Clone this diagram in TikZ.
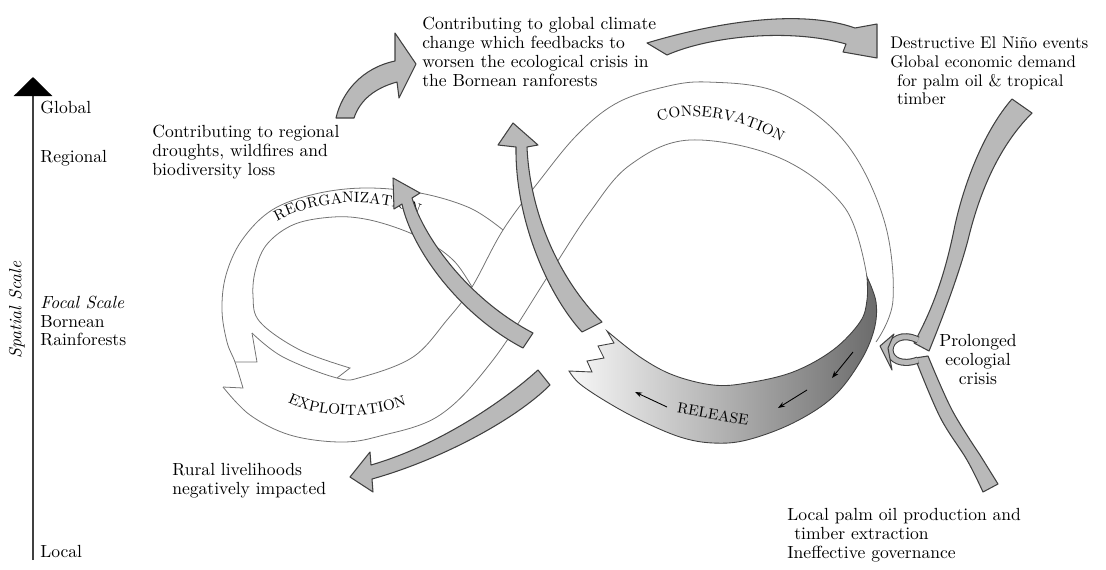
\documentclass[tikz,border=0pt]{standalone}
\usepackage{tikz}
\usetikzlibrary{arrows.meta,decorations.text}

\newcommand{\lblfont}{\fontsize{8.5}{9}\selectfont}
\tikzset{
	txt/.style={font=\fontsize{10}{10.8}\selectfont, align=left, inner sep=0pt},
	scl/.style={font=\fontsize{10}{10.4}\selectfont, align=left, inner sep=0pt},
	band/.style={draw=black!55, line width=0.45pt},
	blockarr/.style={fill=gray!55, draw=black!75, line width=0.6pt, line join=round},
}

\begin{document}
\begin{tikzpicture}[x=0.02cm, y=-0.02cm]
	\useasboundingbox (0,0) rectangle (1106,569);

	% spatial scale
	\coordinate (axbot) at (33,560);
	\coordinate (axtop) at (33,77);
	\draw[line width=1.6pt, black!75, -{Triangle[width=0.76cm, length=0.38cm, color=black]}] (axbot) -- (axtop);
	\node[scl, anchor=west] (global) at (40,107) {Global};
	\node[scl, anchor=west] (regional) at (40,158) {Regional};
	\node[scl, anchor=north west] (focal) at (40,296) {\textit{Focal Scale}\\Bornean\\Rainforests};
	\node[scl, anchor=west] (localsc) at (40,551) {Local};
	\node[scl, rotate=90] (spatial) at (17,310) {\textit{Spatial Scale}};

	% figure eight band
	\draw[band] plot[smooth, tension=0.6] coordinates {(503,230) (470,208) (420,193) (365,188) (315,194) (272,210) (242,240) (226,275) (222,310) (227,342) (235,362) (243,388)} -- (223,387);
	\draw[band] plot[smooth, tension=0.6] coordinates {(223,387) (250,415) (290,435) (340,442) (380,436) (440,415) (493,360) (550,273) (590,212) (630,165) (690,140) (780,158) (845,208) (867,277)};
	\draw[band] plot[smooth, tension=0.6] coordinates {(472,287) (455,262) (430,243) (400,229) (365,219) (333,217) (295,224) (268,243) (256,268) (253,296) (260,322) (300,350) (350,368)} -- (337,378);
	\draw[band] plot[smooth, tension=0.6] coordinates {(252,333) (283,357) (337,378) (362,377) (413,357) (447,320) (472,287) (503,230) (540,180) (577,135) (615,104) (660,88) (707,82) (780,93) (845,142) (884,220) (893,300) (876,342)};
	\draw[band] (252,333) -- (257,362) -- (235,362);

	% release
	\draw[draw=black!75, line width=0.5pt, left color=black!3, right color=black!58]
		plot[smooth, tension=0.6] coordinates {(867,277) (867,300) (860,322) (833,350) (793,372) (747,383) (713,385) (673,375) (640,357) (607,331)}
		-- (614,343) -- (598,346) -- (604,358) -- (587,361) -- (592,372) -- (569,371)
		-- plot[smooth, tension=0.6] coordinates {(569,371) (580,384) (607,402) (640,420) (680,437) (713,443) (747,440) (793,423) (833,397) (860,362) (874,330) (876,302) (867,277)} -- cycle;
	\draw[-{Stealth[length=0.14cm, width=0.1cm]}, line width=0.5pt] (667,407) -- (635,392);
	\draw[-{Stealth[length=0.14cm, width=0.1cm]}, line width=0.5pt] (807,390) -- (778,408);
	\draw[-{Stealth[length=0.14cm, width=0.1cm]}, line width=0.5pt] (853,352) -- (832,378);

	% phase names
	\path[decorate, decoration={text along path, text align=center, text={|\lblfont|CONSERVATION}}] (645,130) .. controls (670,110) and (730,108) .. (795,150);
	\path[decorate, decoration={text along path, text align=center, text={|\lblfont|REORGANIZATION}}] (262,232) .. controls (300,197) and (390,192) .. (435,224);
	\path[decorate, decoration={text along path, text align=center, text={|\lblfont|EXPLOITATION}}] (280,398) .. controls (310,418) and (370,422) .. (415,402);
	\node[font=\lblfont, rotate=-10, inner sep=0pt] (release) at (713,414) {RELEASE};

	% texts
	\node[txt, anchor=north west] (climate) at (422,17) {Contributing to global climate\\change which feedbacks to\\worsen the ecological crisis in\\the Bornean ranforests};
	\node[txt, anchor=north west] (regdrought) at (152,125) {Contributing to regional\\droughts, wildfires and\\biodiversity loss};
	\node[txt, font=\fontsize{9.6}{10.8}\selectfont, anchor=north west] (elnino) at (890,36) {Destructive El Niño events\\Global economic demand\\\hspace{0.4em}for palm oil \& tropical\\\hspace{0.4em}timber};
	\node[txt, align=center, anchor=north] (crisis) at (978,334) {Prolonged\\ecologial\\crisis};
	\node[txt, anchor=north west] (palmoil) at (787,508) {Local palm oil production and\\\hspace{0.4em}timber extraction\\Ineffective governance};
	\node[txt, anchor=north west] (rural) at (172,463) {Rural livelihoods\\negatively impacted};

	% block arrows
	\filldraw[blockarr] (336,118) .. controls (342,92) and (362,68) .. (395,61) -- (395,33) -- (416,64) -- (399,98) -- (397,82) .. controls (375,88) and (360,100) .. (354,118) -- cycle;
	\filldraw[blockarr] (647,43) .. controls (690,30) and (790,5) .. (855,28) -- (877,24) -- (877,58) -- (843,52) -- (846,44) .. controls (790,28) and (710,36) .. (667,55) -- cycle;
	\filldraw[blockarr] (516,147) -- (498,145) -- (513,123) -- (538,145) -- (527,147) .. controls (530,215) and (560,280) .. (602,322) -- (582,332) .. controls (548,295) and (515,220) .. (516,147) -- cycle;
	\filldraw[blockarr] (402,204) -- (394,209) -- (393,178) -- (420,193) -- (412,198) .. controls (425,240) and (470,300) .. (533,333) -- (523,348) .. controls (460,315) and (412,250) .. (402,204) -- cycle;
	\filldraw[blockarr] (538,370) .. controls (505,400) and (440,445) .. (371,465) -- (370,452) -- (350,477) -- (373,492) -- (372,479) .. controls (440,460) and (515,420) .. (550,385) -- cycle;

	% drivers
	\filldraw[blockarr] (1012,99) .. controls (985,130) and (965,180) .. (955,225) .. controls (945,275) and (933,308) .. (914,343) -- (929,351) .. controls (945,312) and (960,270) .. (968,240) .. controls (980,190) and (1000,145) .. (1032,113) -- cycle;
	\filldraw[blockarr] plot[smooth, tension=0.6] coordinates {(915,358) (940,417) (967,460) (983,492)} -- (998,484) -- plot[smooth, tension=0.6] coordinates {(980,455) (952,410) (928,356)} -- cycle;
	\draw[line width=0.6pt, black!75, double=gray!55, double distance=0.1cm] (918,340) .. controls (902,332) and (890,340) .. (890,350) .. controls (890,360) and (902,366) .. (918,360);
	\filldraw[blockarr] (894,334) -- (880,346) -- (892,370) -- (888,348) -- cycle;
\end{tikzpicture}
\end{document}
